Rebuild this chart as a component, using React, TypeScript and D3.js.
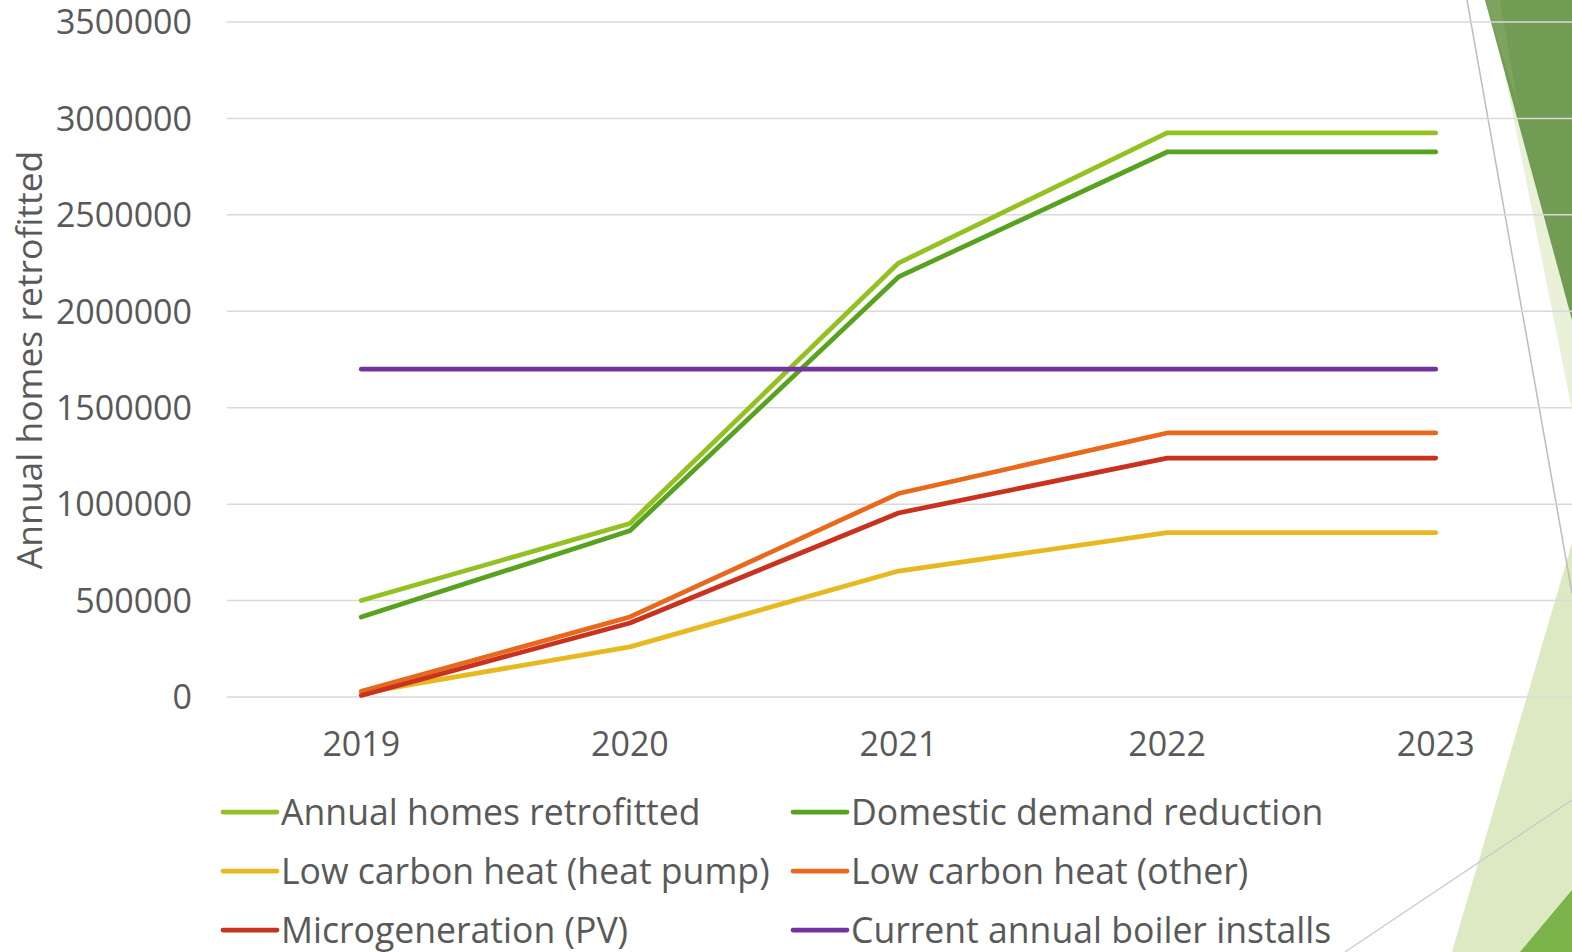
import React, { useEffect, useRef } from "react";
import * as d3 from "d3";

const years = ["2019", "2020", "2021", "2022", "2023"];

const annualHomesRetrofitted = [500000, 900000, 2250000, 2925000, 2925000];
const domesticDemandReduction = [415000, 862000, 2178000, 2826000, 2826000];
const lowCarbonHeatPump = [20000, 260000, 653000, 852000, 852000];
const lowCarbonHeatOther = [30000, 415000, 1055000, 1369000, 1369000];
const microgenerationPV = [8000, 384000, 954000, 1239000, 1239000];
const boilerInstalls = [1700000, 1700000, 1700000, 1700000, 1700000];

const seriesNames = [
  "Annual homes retrofitted",
  "Domestic demand reduction",
  "Low carbon heat (heat pump)",
  "Low carbon heat (other)",
  "Microgeneration (PV)",
  "Current annual boiler installs",
];
const seriesColors = ["#93c122", "#57a21f", "#e6b921", "#e8681c", "#c8321e", "#7232a0"];
const seriesValues = [
  annualHomesRetrofitted,
  domesticDemandReduction,
  lowCarbonHeatPump,
  lowCarbonHeatOther,
  microgenerationPV,
  boilerInstalls,
];

const yTicks = [0, 500000, 1000000, 1500000, 2000000, 2500000, 3000000, 3500000];

const W = 1572;
const H = 952;
const FONT = "'Open Sans', sans-serif";
const TEXT = "#595959";

const Chart: React.FC = () => {
  const svgRef = useRef<SVGSVGElement | null>(null);

  useEffect(() => {
    if (!svgRef.current) return;
    const svg = d3.select(svgRef.current);
    svg.selectAll("*").remove();

    // background decoration (slide theme triangles)
    const deco = svg.append("g");
    deco.append("polygon").attr("points", "1490,0 1572,0 1572,410").attr("fill", "#e9f1d8");
    deco.append("polygon").attr("points", "1485,0 1572,0 1572,320").attr("fill", "#729b53");
    deco.append("polygon").attr("points", "1485,0 1500,0 1518,105").attr("fill", "#7da35e");
    deco.append("polygon").attr("points", "1572,543 1572,952 1452,952").attr("fill", "#dde9c3");
    deco.append("polygon").attr("points", "1572,890 1572,952 1520,952").attr("fill", "#79b34a");
    deco.append("line").attr("x1", 1467).attr("y1", 0).attr("x2", 1572).attr("y2", 593)
      .attr("stroke", "#bdbdbd").attr("stroke-width", 1.5);
    deco.append("line").attr("x1", 1345).attr("y1", 952).attr("x2", 1572).attr("y2", 800)
      .attr("stroke", "#c8c8c8").attr("stroke-width", 1.2);

    const x = d3.scalePoint<string>().domain(years).range([227, 1570]).padding(0.5);
    const y = d3.scaleLinear().domain([0, 3500000]).range([697, 22]);

    // gridlines
    svg.append("g")
      .selectAll("line")
      .data(yTicks)
      .enter()
      .append("line")
      .attr("x1", 227)
      .attr("x2", W)
      .attr("y1", (d) => y(d))
      .attr("y2", (d) => y(d))
      .attr("stroke", "#d9d9d9")
      .attr("stroke-width", 1.5);

    // y tick labels
    svg.append("g")
      .selectAll("text")
      .data(yTicks)
      .enter()
      .append("text")
      .attr("x", 192)
      .attr("y", (d) => y(d))
      .attr("dy", "0.36em")
      .attr("text-anchor", "end")
      .attr("font-family", FONT)
      .attr("font-size", 34)
      .attr("fill", TEXT)
      .text((d) => String(d));

    // x tick labels
    svg.append("g")
      .selectAll("text")
      .data(years)
      .enter()
      .append("text")
      .attr("x", (d) => x(d) ?? 0)
      .attr("y", 756)
      .attr("text-anchor", "middle")
      .attr("font-family", FONT)
      .attr("font-size", 34)
      .attr("fill", TEXT)
      .text((d) => d);

    // y axis title
    svg.append("text")
      .attr("transform", "translate(42,360) rotate(-90)")
      .attr("text-anchor", "middle")
      .attr("font-family", FONT)
      .attr("font-size", 35.5)
      .attr("fill", TEXT)
      .text("Annual homes retrofitted");

    // series lines
    const line = d3
      .line<number>()
      .x((_, i) => x(years[i]) ?? 0)
      .y((d) => y(d));

    svg.append("g")
      .selectAll("path")
      .data(seriesValues)
      .enter()
      .append("path")
      .attr("fill", "none")
      .attr("stroke", (_, i) => seriesColors[i])
      .attr("stroke-width", 4.75)
      .attr("stroke-linecap", "round")
      .attr("stroke-linejoin", "round")
      .attr("d", (d) => line(d));

    // legend
    const legend = svg
      .append("g")
      .selectAll("g")
      .data(seriesNames)
      .enter()
      .append("g")
      .attr("transform", (_, i) => `translate(${i % 2 === 0 ? 223 : 793},${812 + Math.floor(i / 2) * 59})`);

    legend
      .append("line")
      .attr("x1", 0)
      .attr("x2", 54)
      .attr("stroke", (_, i) => seriesColors[i])
      .attr("stroke-width", 4.75)
      .attr("stroke-linecap", "round");

    legend
      .append("text")
      .attr("x", 58)
      .attr("y", 13)
      .attr("font-family", FONT)
      .attr("font-size", 35.6)
      .attr("fill", TEXT)
      .text((d) => d);
  }, []);

  return (
    <svg
      ref={svgRef}
      width={W}
      height={H}
      style={{ position: "absolute", left: 0, top: 0, display: "block", background: "#fff" }}
    />
  );
};

export default function App() {
  return <Chart />;
}
